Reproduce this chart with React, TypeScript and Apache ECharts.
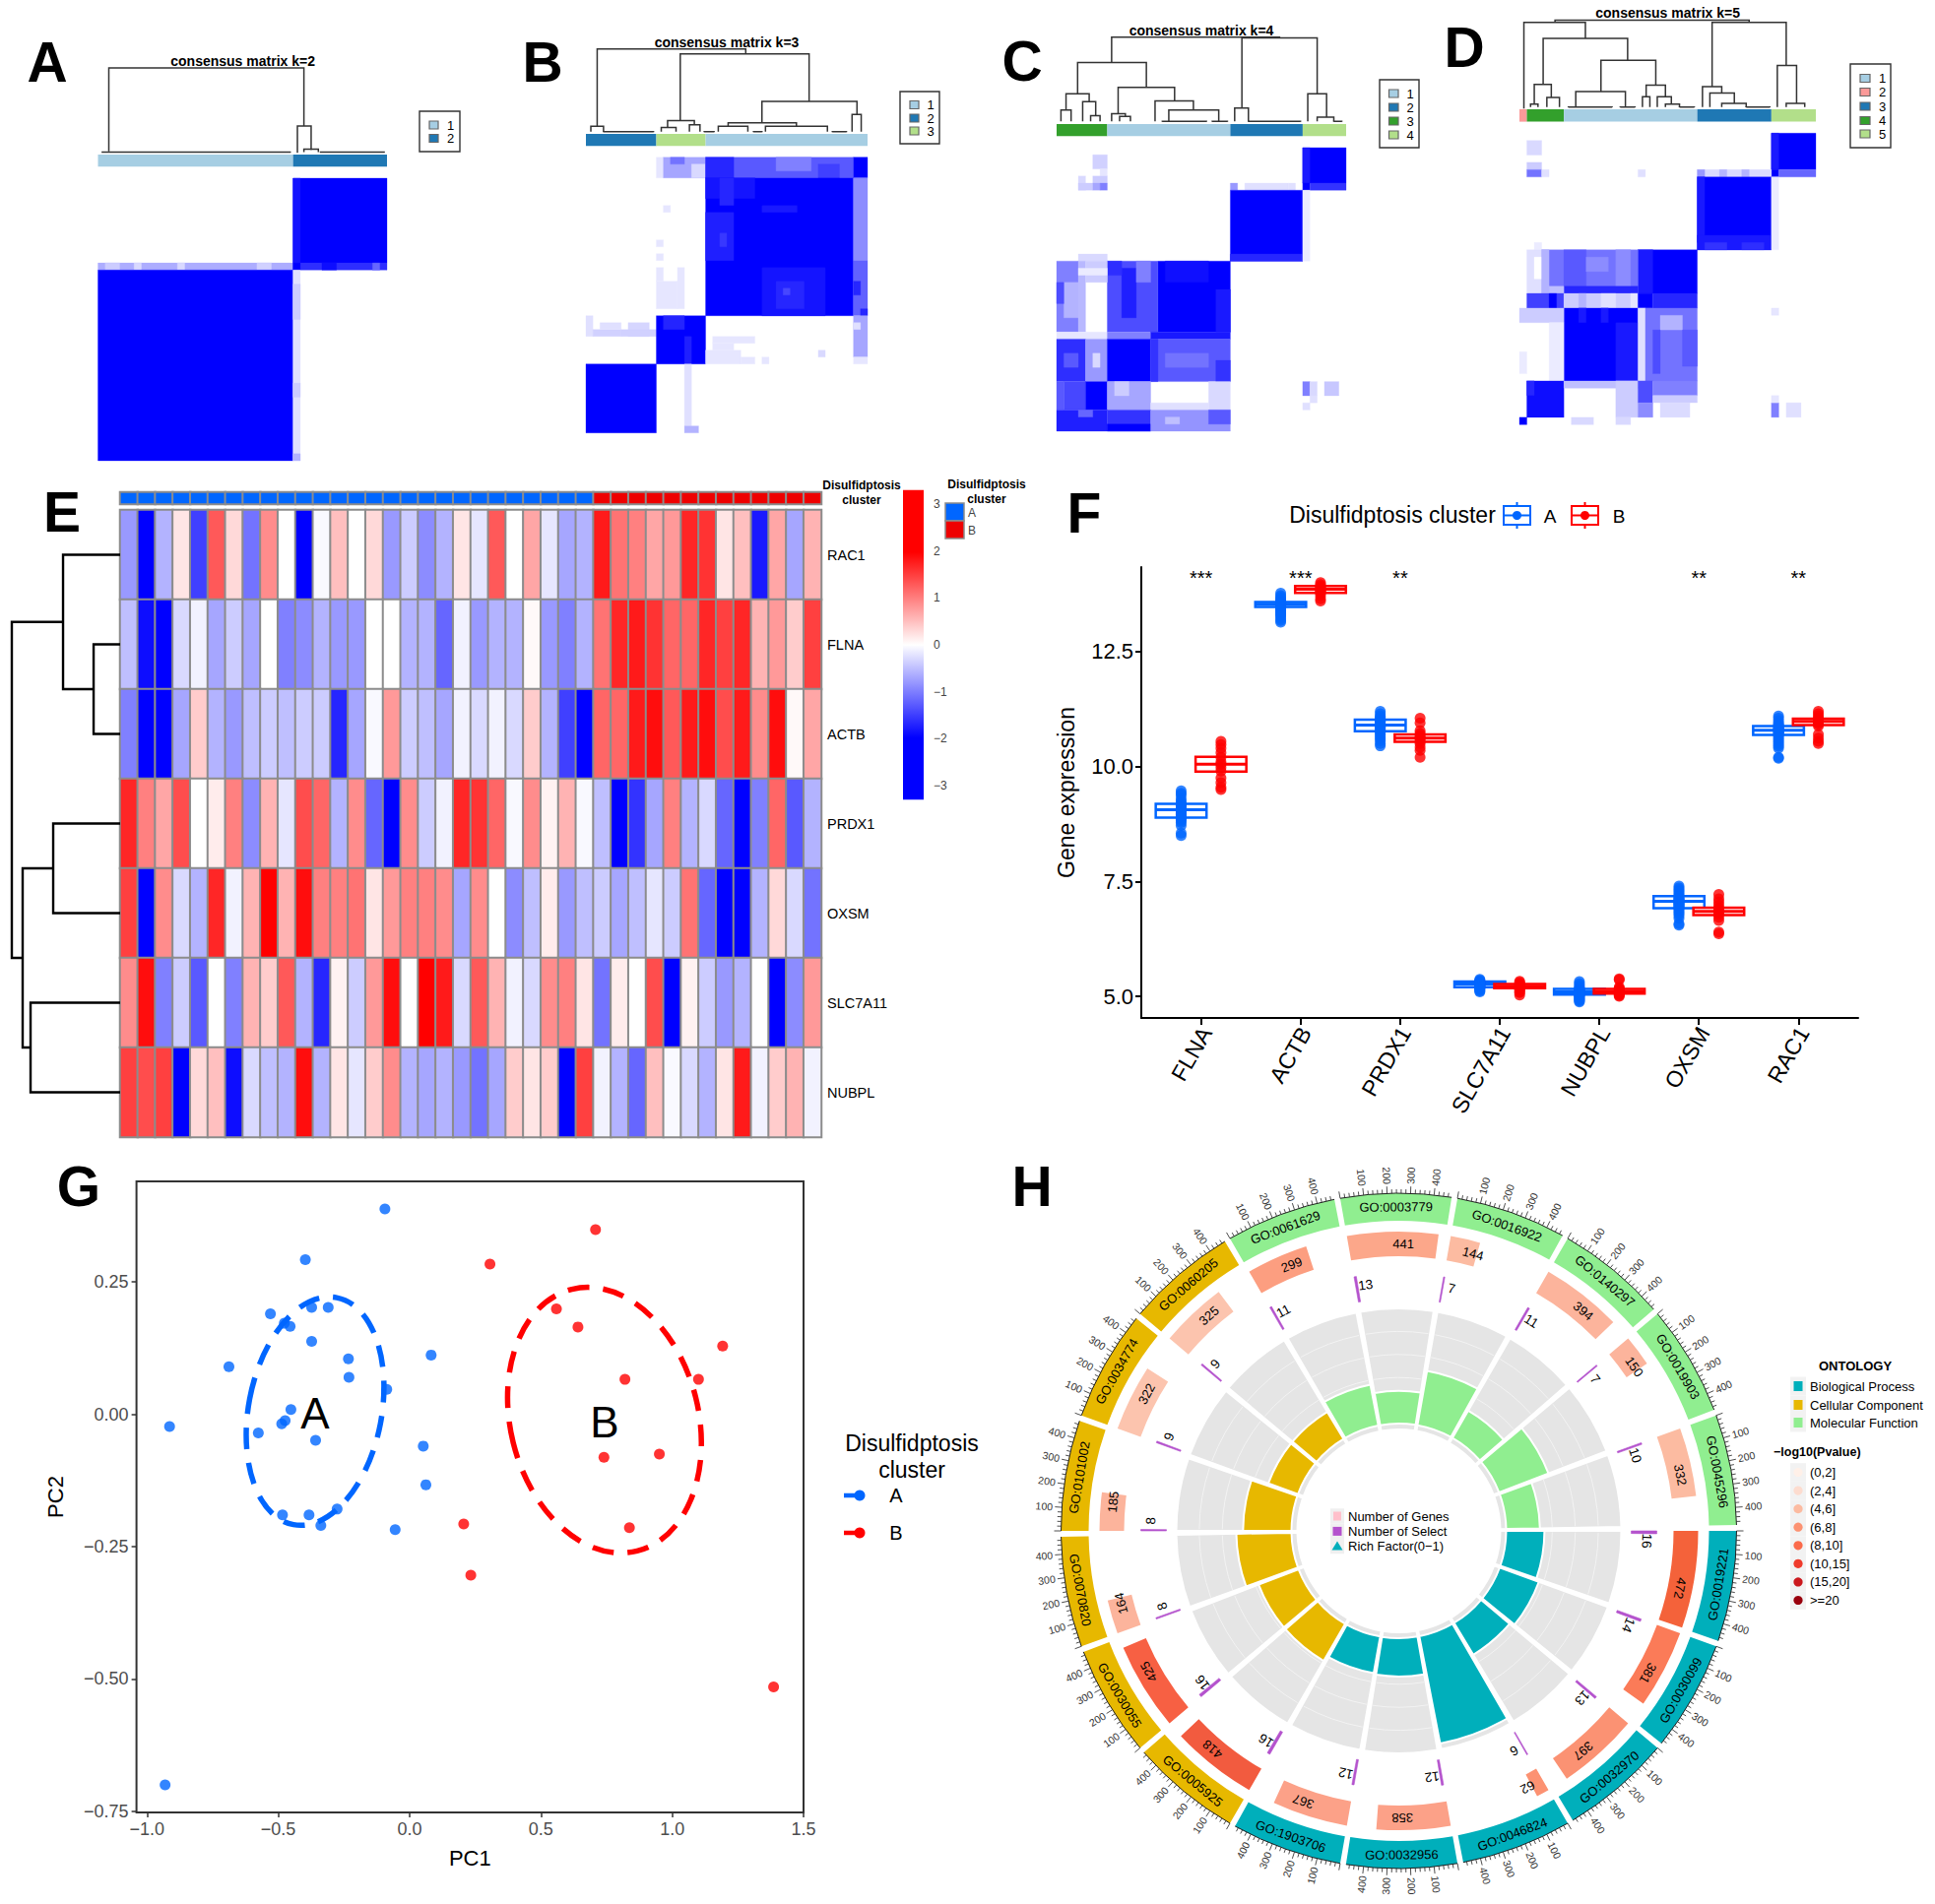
import React, { useEffect, useRef } from "react";
import * as echarts from "echarts";

const FONT = "Liberation Sans";
const BLUE = "#0066FF";
const RED = "#FF0000";
const C_LIGHT = "#A6CEE3";
const C_DARK = "#1F78B4";
const C_GREEN = "#33A02C";
const C_LIME = "#B2DF8A";
const C_SALMON = "#FB9A99";

// ---------- consensus matrices: [colFrom, colTo, rowFrom, rowTo, consensus]
const matrixA = [
  [27, 40, 0, 12, 1], [27, 28, 0, 12, 0.92], [0, 27, 12, 13, 0.32], [1, 3, 12, 13, 0.2], [5, 6, 12, 13, 0.15], [11, 12, 12, 13, 0.15], [22, 24, 12, 13, 0.18],
  [27, 40, 12, 13, 0.82], [27, 28, 12, 13, 1], [31, 33, 12, 13, 0.95], [38, 39, 12, 13, 0.6],
  [0, 27, 13, 40, 1], [27, 28, 13, 40, 0.12], [27, 28, 15, 20, 0.2], [27, 28, 29, 31, 0.2], [27, 28, 39, 40, 0.3],
];
const matrixB = [
  [10, 11, 0, 3, 0.1], [11, 17, 0, 3, 0.35], [12, 14, 0, 1, 0.55], [15, 17, 1, 3, 0.15],
  [17, 38, 0, 3, 0.65], [17, 21, 0, 3, 0.85], [27, 32, 0, 2, 0.5], [33, 36, 1, 3, 0.75], [38, 40, 0, 3, 1],
  [17, 38, 3, 23, 1], [17, 24, 3, 6, 0.92], [19, 21, 3, 7, 0.85], [17, 21, 8, 15, 0.88], [19, 20, 11, 13, 0.78], [25, 30, 7, 8, 0.9], [25, 34, 16, 23, 0.92], [27, 31, 18, 22, 0.85], [28, 29, 19, 20, 0.72],
  [38, 40, 3, 15, 0.45], [38, 40, 15, 23, 0.62], [38, 39, 18, 20, 0.85], [39, 40, 22, 23, 0.85],
  [11, 12, 7, 8, 0.1], [10, 11, 12, 13, 0.1], [10, 11, 14, 15, 0.1], [13, 14, 16, 22, 0.1], [10, 13, 18, 22, 0.1], [10, 11, 16, 18, 0.1],
  [0, 1, 23, 26, 0.12], [1, 5, 25, 26, 0.18], [2, 5, 24, 25, 0.12], [6, 9, 24, 26, 0.16], [5, 10, 25, 26, 0.18],
  [10, 17, 23, 30, 1], [11, 14, 23, 25, 0.86], [14, 15, 26, 30, 0.88],
  [38, 40, 23, 29, 0.35], [38, 39, 24, 25, 0.12], [38, 40, 29, 30, 0.1],
  [18, 24, 26, 27, 0.1], [18, 21, 27, 28, 0.1], [17, 22, 28, 30, 0.1], [22, 24, 29, 30, 0.1], [25, 26, 29, 30, 0.1], [33, 34, 28, 29, 0.15],
  [0, 10, 30, 40, 1], [14, 15, 30, 39, 0.12], [14, 16, 39, 40, 0.3],
];
const matrixC = [
  [34, 40, 0, 5, 1], [34, 35, 0, 5, 0.9], [34, 35, 5, 6, 1], [35, 40, 5, 6, 0.8], [24, 25, 5, 6, 0.4], [26, 32, 5, 6, 0.12], [32, 33, 5, 6, 0.12],
  [5, 7, 1, 3, 0.18], [6, 7, 3, 4, 0.1], [3, 4, 4, 6, 0.15], [5, 7, 4, 5, 0.2], [3, 5, 5, 6, 0.2], [5, 6, 5, 6, 0.35], [6, 7, 5, 6, 0.5],
  [24, 34, 6, 16, 1], [24, 34, 15, 16, 0.85], [34, 35, 6, 16, 0.08], [3, 7, 15, 16, 0.15],
  [14, 24, 16, 26, 1], [15, 21, 16, 19, 0.94], [22, 24, 20, 26, 0.9], [7, 14, 16, 26, 0.7], [9, 11, 17, 24, 0.88], [11, 13, 16, 19, 0.5], [7, 9, 16, 18, 0.82],
  [0, 3, 16, 26, 0.5], [1, 3, 19, 24, 0.3], [0, 1, 19, 22, 0.7], [3, 4, 16, 26, 0.28], [4, 7, 16, 19, 0.2], [3, 7, 17, 18, 0.08],
  [0, 7, 26, 27, 0.1], [7, 13, 26, 27, 0.5], [13, 24, 26, 27, 0.9],
  [0, 4, 27, 33, 0.82], [1, 3, 29, 31, 0.65], [4, 7, 27, 33, 0.4], [5, 6, 29, 31, 0.15], [7, 13, 27, 33, 1], [13, 24, 27, 33, 0.65], [15, 21, 29, 31, 0.55], [13, 14, 27, 33, 0.8], [22, 24, 30, 33, 0.8],
  [0, 1, 33, 37, 0.65], [1, 4, 33, 37, 0.72], [4, 7, 33, 37, 1], [7, 13, 33, 37, 0.35], [8, 10, 33, 35, 0.2], [21, 24, 33, 37, 0.15],
  [13, 21, 36, 37, 0.12], [34, 35, 33, 35, 0.5], [35, 36, 33, 35, 0.15], [37, 39, 33, 35, 0.22], [34, 35, 36, 37, 0.12], [35, 36, 35, 36, 0.12],
  [0, 7, 37, 40, 0.88], [3, 5, 37, 38, 0.6], [7, 13, 37, 40, 0.8], [7, 13, 39, 40, 1], [13, 24, 37, 40, 0.42], [15, 17, 38, 39, 0.25], [21, 24, 37, 39, 0.65],
];
const matrixD = [
  [34, 40, 0, 5, 1], [34, 35, 0, 5, 0.9], [1, 3, 1, 3, 0.15], [1, 3, 4, 5, 0.2], [34, 35, 5, 6, 1], [35, 40, 5, 6, 0.6], [24, 34, 5, 6, 0.15], [24, 25, 5, 6, 0.4], [27, 28, 5, 6, 0.3], [30, 31, 5, 6, 0.3],
  [1, 3, 5, 6, 0.55], [3, 4, 5, 6, 0.12], [16, 17, 5, 6, 0.12],
  [24, 34, 6, 16, 1], [24, 25, 6, 15, 0.9], [24, 34, 14, 16, 0.9], [25, 28, 15, 16, 0.8], [30, 33, 15, 16, 0.82], [34, 35, 6, 16, 0.08], [2, 3, 15, 16, 0.08],
  [16, 24, 16, 22, 1], [16, 18, 16, 22, 0.9], [3, 16, 16, 22, 0.55], [6, 9, 16, 22, 0.65], [13, 15, 16, 22, 0.45], [9, 12, 17, 19, 0.45], [1, 3, 16, 22, 0.12], [2, 3, 17, 20, 0], [3, 4, 16, 22, 0.3],
  [6, 16, 21, 22, 0.85], [4, 6, 21, 22, 0.25],
  [1, 6, 22, 24, 0.75], [4, 5, 22, 24, 1], [6, 16, 22, 24, 0.2], [8, 9, 22, 24, 0.3], [11, 13, 22, 24, 0.12], [15, 16, 22, 24, 0.1], [16, 18, 22, 24, 1], [18, 24, 22, 24, 0.85],
  [6, 16, 24, 34, 1], [8, 9, 24, 26, 0.9], [11, 12, 24, 26, 0.9], [13, 16, 26, 34, 0.9], [16, 17, 24, 34, 0.12], [17, 24, 24, 34, 0.55], [19, 22, 25, 27, 0.3], [18, 19, 27, 33, 0.7], [22, 24, 27, 32, 0.65],
  [0, 6, 24, 26, 0.2], [4, 6, 26, 34, 0.08], [0, 1, 30, 33, 0.08], [34, 35, 24, 25, 0.1],
  [1, 6, 34, 39, 0.95], [1, 2, 34, 36, 0.85], [6, 16, 34, 35, 0.25], [13, 16, 34, 39, 0.2], [16, 18, 34, 37, 0.7], [16, 18, 37, 39, 0.45], [18, 24, 34, 36, 0.5], [18, 24, 36, 37, 0.2], [19, 23, 37, 39, 0.14],
  [34, 35, 37, 39, 0.5], [36, 38, 37, 39, 0.12], [34, 35, 36, 37, 0.1],
  [0, 1, 39, 40, 1], [7, 10, 39, 40, 0.15], [13, 15, 39, 40, 0.15],
];

// ---------- dendrogram brackets: [left, right, top, leftLegEnd, rightLegEnd]
const dendroA = [
  [1.5, 28.5, -15.6, -3.8, -7.4], [27.6, 29.5, -7.4, -3.6, -4], [28.5, 30.5, -4.1, -3.7, -3.7], [0.6, 26.6, -3.7, -3.6, -3.6], [30.8, 39.6, -3.7, -3.6, -3.6],
];
const dendroB = [
  [1.6, 22.7, -15.7, -4.5, -15], [13.4, 31.7, -15, -5.3, -8.1], [25, 38.5, -8.1, -5, -6.2], [37.8, 39.1, -6.2, -3.7, -3.7], [20.2, 29.9, -5, -4.5, -4.5],
  [18.8, 23, -4.5, -3.7, -3.7], [25.5, 34.3, -4.5, -3.7, -3.7], [11.6, 15.4, -5.3, -4.3, -4.7], [10.7, 12.8, -4.3, -3.7, -3.7], [14.7, 16.2, -4.7, -3.7, -3.7],
  [0.7, 2.5, -4.5, -3.7, -3.7], [2.5, 9.6, -3.7, -3.65, -3.65], [16.8, 18.2, -3.7, -3.65, -3.65], [23.8, 25, -3.7, -3.65, -3.65], [35, 37, -3.7, -3.65, -3.65],
];
const dendroC = [
  [7.6, 30.8, -15.6, -12, -15.5], [25.6, 36, -15.5, -5.6, -7.6], [2.9, 12.4, -12, -7.6, -8.5], [1.3, 4.5, -7.6, -5.3, -6.5], [0.6, 2, -5.3, -3.7, -3.7], [3.6, 5.4, -6.5, -3.7, -4.5],
  [4.7, 6, -4.5, -3.7, -3.7], [8.5, 16.3, -8.5, -4.8, -6.6], [7.6, 9.5, -4.8, -3.7, -4.4], [8.7, 10.2, -4.4, -3.7, -3.7], [13.6, 18.9, -6.6, -3.7, -5.3], [15.5, 22.4, -5.3, -3.7, -3.7],
  [14.6, 20.7, -3.7, -3.65, -3.65], [21.5, 23.6, -3.7, -3.65, -3.65], [24.6, 26.5, -5.6, -3.7, -3.7], [26.5, 33.7, -3.7, -3.65, -3.65], [34.7, 37.3, -7.6, -3.7, -4.3], [36, 38.3, -4.3, -3.7, -3.7], [38.3, 39.4, -3.7, -3.65, -3.65],
];
const dendroD = [
  [4.8, 31, -15.5, -15.2, -15.2], [0.6, 8.9, -15.2, -3.4, -13], [3.2, 14.6, -13, -6.7, -10], [11, 18.4, -10, -5.7, -6.6], [7.6, 14.3, -5.7, -3.6, -3.6], [17.1, 19.7, -6.6, -5, -5], [16.6, 17.6, -5, -3.6, -3.6],
  [18.6, 20.5, -5, -3.6, -4], [19.7, 21.6, -4, -3.6, -3.6], [21.6, 23.6, -3.6, -3.55, -3.55], [26, 36, -15.2, -6.4, -9.3], [24.7, 27.3, -6.4, -3.6, -5.5], [25.7, 29, -5.5, -3.6, -4.1], [27.3, 30.6, -4.1, -3.6, -3.6], [30.6, 33.8, -3.6, -3.55, -3.55],
  [34.8, 37.4, -9.3, -3.6, -4.1], [36, 38.5, -4.1, -3.6, -3.6], [2, 4.3, -6.7, -4, -4.9], [1.5, 2.5, -4, -3.6, -3.6], [3.7, 5.4, -4.9, -3.6, -3.6], [6.6, 12.5, -3.6, -3.55, -3.55], [13.6, 15.6, -3.6, -3.55, -3.55],
];

// ---------- cluster annotation runs: [colFrom, colTo]
const annotA = [[0, 27], [27, 40]];
const annotAColors = [C_LIGHT, C_DARK];
const annotB = [[0, 10], [10, 17], [17, 40]];
const annotBColors = [C_DARK, C_LIME, C_LIGHT];
const annotC = [[0, 7], [7, 24], [24, 34], [34, 40]];
const annotCColors = [C_GREEN, C_LIGHT, C_DARK, C_LIME];
const annotD = [[0, 1], [1, 6], [6, 24], [24, 34], [34, 40]];
const annotDColors = [C_SALMON, C_GREEN, C_LIGHT, C_DARK, C_LIME];

// ---------- panel E
const heatGenes = ["RAC1", "FLNA", "ACTB", "PRDX1", "OXSM", "SLC7A11", "NUBPL"];
const heatRAC1 = [-0.8, -2.2, -0.6, 0.2, -1.5, 1.3, 0.3, -1.1, 0.9, 0, -2.2, -0.05, 0.5, 0, 0.3, -0.8, -0.4, -0.9, -0.6, 0.2, -0.2, 1.3, 0, 0.7, -0.2, -0.7, -0.6, 1.8, 1.1, 1.0, 0.7, 0.8, 1.7, 1.6, 0.2, 0.5, -1.8, 0.7, -0.7, 0.6];
const heatFLNA = [-0.5, -1.9, -2.1, -0.3, -0.1, -0.7, -0.4, -0.7, 0, -1, -0.9, -0.6, -0.8, -0.8, 0, 0, -0.6, -0.6, -1.2, -0.1, -0.8, -0.6, -0.6, 0.05, -0.8, -1, -0.6, 1.1, 1.7, 1.8, 1.6, 1.2, 1.2, 1.7, 1.5, 1.7, 0.6, 0.8, 0.4, 1.5];
const heatACTB = [-1, -2.2, -2.1, -0.7, 0.4, -0.6, -0.8, -0.5, -0.4, -0.5, -0.4, -0.4, -1.7, -0.7, -0.05, 0.8, -0.4, -0.5, -0.7, -0.1, -0.3, -0.1, -0.3, 0.4, -0.6, -1.5, -2, 1.2, 1.2, 1.8, 1.9, 1.3, 1.8, 1.9, 1.4, 1.8, 0.9, 1.9, 0.05, 0.7];
const heatPRDX1 = [1.7, 1, 0.7, 1.4, 0, 0.15, 1, -0.9, 0.6, -0.2, 1.4, 1.2, -0.6, 0.9, -1.2, -2, 0.9, -0.4, -0.1, 1.7, 1.6, 1.2, -0.05, 0.9, 0.1, 0.6, -0.05, -0.5, -2.2, -1.6, -0.7, 1.0, -0.6, -0.3, -1.2, -2, -1, 1.2, -1.3, -0.6];
const heatOXSM = [1.5, -2.2, 0.9, -0.3, -0.6, 1.7, -0.1, 0.6, 2, 0.6, 1.9, 1.0, 1.0, 1.1, 0.2, 0.8, 1.0, 1.0, 0.9, -0.7, 0.9, 0, -0.9, -0.5, 0.15, -0.8, -0.5, -0.4, -0.7, -0.5, -0.2, -0.4, 1.1, -1.2, -2.1, -2.2, -0.6, 0.3, -0.3, -1.1];
const heatSLC7A11 = [0.9, 1.9, -1.0, -0.4, -1.3, 0, -1, 0.6, 0.4, 1.3, -0.6, -1.7, 0.1, -0.4, 0.8, 1.9, 0, 2, 1.8, -0.3, 1.3, 0.6, -0.1, -0.3, 0.9, 1.0, 0.2, -1.1, 0.15, 0, 1.4, -2.2, 0.1, -0.4, -0.8, -0.6, 0, -2.1, -0.9, 0.8];
const heatNUBPL = [1.5, 1.4, 1.5, -2.2, 0.3, 0.5, -1.9, -0.3, -0.5, -0.6, 1.9, -0.6, 0.2, -0.2, 0.4, 0.9, -0.6, -0.7, -0.6, -0.8, -1.1, -0.7, 0.4, 0.2, 0.4, -2.2, 1.5, -0.1, -0.6, -1.2, 0.5, -0.05, -0.3, -0.6, 0.2, 1.8, -0.1, 0.4, 0.6, -0.1];
const heatRows = [heatRAC1, heatFLNA, heatACTB, heatPRDX1, heatOXSM, heatSLC7A11, heatNUBPL];
const clusterACount = 27;
// [rowFrom, rowTo, height, fromLegEnd, toLegEnd]
const rowDendro = [
  [1.5, 2.5, 0.245, 0, 0], [0.5, 2, 0.527, 0, 0.245], [3.5, 4.5, 0.618, 0, 0], [5.5, 6.5, 0.827, 0, 0], [4, 6, 0.9, 0.618, 0.827], [1.25, 5, 1, 0.527, 0.9],
];
const colorbarTicks = [-3, -2, -1, 0, 1, 2, 3];

// ---------- panel F
const boxGenes = ["FLNA", "ACTB", "PRDX1", "SLC7A11", "NUBPL", "OXSM", "RAC1"];
const boxStatsA = [[8.89, 9.06, 9.19], [13.47, 13.53, 13.58], [10.77, 10.9, 11.02], [5.2, 5.27, 5.32], [5.04, 5.1, 5.16], [6.92, 7.07, 7.18], [10.69, 10.79, 10.88]];
const boxStatsB = [[9.89, 10.05, 10.21], [13.78, 13.86, 13.93], [10.54, 10.62, 10.7], [5.18, 5.22, 5.27], [5.06, 5.11, 5.16], [6.77, 6.85, 6.93], [10.9, 10.98, 11.04]];
const pointsFLNA_A = [9.47, 9.42, 9.38, 9.3, 9.25, 9.2, 9.18, 9.15, 9.12, 9.1, 9.08, 9.06, 9.05, 9.03, 9.0, 8.98, 8.96, 8.94, 8.92, 8.9, 8.88, 8.85, 8.82, 8.78, 8.72, 8.55, 8.5];
const pointsFLNA_B = [10.55, 10.48, 10.4, 10.3, 10.2, 10.1, 10.05, 9.98, 9.9, 9.75, 9.65, 9.55, 9.5];
const pointsACTB_A = [13.77, 13.72, 13.68, 13.65, 13.62, 13.6, 13.58, 13.57, 13.55, 13.54, 13.53, 13.52, 13.5, 13.49, 13.48, 13.46, 13.44, 13.42, 13.4, 13.38, 13.35, 13.32, 13.3, 13.27, 13.22, 13.18, 13.14];
const pointsACTB_B = [14.0, 13.96, 13.93, 13.9, 13.88, 13.86, 13.84, 13.82, 13.8, 13.77, 13.72, 13.65, 13.6];
const pointsPRDX1_A = [11.2, 11.15, 11.1, 11.07, 11.04, 11.02, 11, 10.98, 10.96, 10.94, 10.92, 10.91, 10.9, 10.88, 10.86, 10.85, 10.83, 10.8, 10.78, 10.76, 10.72, 10.68, 10.64, 10.6, 10.56, 10.5, 10.45];
const pointsPRDX1_B = [11.05, 10.95, 10.78, 10.72, 10.68, 10.64, 10.62, 10.6, 10.55, 10.5, 10.42, 10.35, 10.2];
const pointsSLC_A = [5.37, 5.35, 5.33, 5.32, 5.31, 5.3, 5.3, 5.29, 5.28, 5.28, 5.27, 5.27, 5.26, 5.26, 5.25, 5.25, 5.24, 5.23, 5.22, 5.21, 5.2, 5.19, 5.17, 5.16, 5.14, 5.12, 5.1];
const pointsSLC_B = [5.33, 5.3, 5.27, 5.25, 5.23, 5.22, 5.2, 5.18, 5.16, 5.14, 5.1, 5.08, 5.03];
const pointsNUBPL_A = [5.32, 5.28, 5.24, 5.2, 5.18, 5.16, 5.14, 5.13, 5.12, 5.11, 5.1, 5.1, 5.09, 5.08, 5.07, 5.06, 5.05, 5.04, 5.03, 5.02, 5, 4.98, 4.96, 4.94, 4.92, 4.9, 4.88];
const pointsNUBPL_B = [5.38, 5.36, 5.2, 5.17, 5.15, 5.13, 5.11, 5.1, 5.08, 5.06, 5.04, 5.02, 5.0];
const pointsOXSM_A = [7.4, 7.36, 7.32, 7.28, 7.24, 7.2, 7.17, 7.14, 7.12, 7.1, 7.08, 7.07, 7.05, 7.03, 7.02, 7, 6.98, 6.96, 6.94, 6.92, 6.88, 6.84, 6.8, 6.76, 6.7, 6.58, 6.55];
const pointsOXSM_B = [7.22, 7.12, 7.05, 6.98, 6.92, 6.88, 6.85, 6.82, 6.78, 6.72, 6.65, 6.4, 6.36];
const pointsRAC1_A = [11.1, 11.05, 11, 10.95, 10.92, 10.89, 10.87, 10.85, 10.83, 10.81, 10.8, 10.79, 10.78, 10.76, 10.74, 10.72, 10.7, 10.68, 10.64, 10.6, 10.56, 10.52, 10.48, 10.44, 10.4, 10.2, 10.18];
const pointsRAC1_B = [11.2, 11.15, 11.1, 11.05, 11.02, 10.98, 10.95, 10.92, 10.88, 10.7, 10.62, 10.55, 10.5];
const boxPointsA = [pointsFLNA_A, pointsACTB_A, pointsPRDX1_A, pointsSLC_A, pointsNUBPL_A, pointsOXSM_A, pointsRAC1_A];
const boxPointsB = [pointsFLNA_B, pointsACTB_B, pointsPRDX1_B, pointsSLC_B, pointsNUBPL_B, pointsOXSM_B, pointsRAC1_B];
const sigMarks = ["***", "***", "**", "", "", "**", "**"];
const sigLevel = 14.1;
const boxTicks = [5, 7.5, 10, 12.5];

// ---------- panel G
const pcaA = [
  [-0.094, 0.388], [-0.397, 0.292], [-0.53, 0.19], [-0.373, 0.202], [-0.31, 0.202], [-0.477, 0.172], [-0.455, 0.166], [-0.373, 0.138], [-0.233, 0.105], [-0.231, 0.07],
  [-0.688, 0.09], [-0.087, 0.047], [0.082, 0.112], [-0.452, 0.009], [-0.474, -0.012], [-0.487, -0.018], [-0.576, -0.035], [-0.358, -0.049], [-0.914, -0.023], [0.052, -0.06],
  [0.062, -0.133], [-0.055, -0.218], [-0.484, -0.19], [-0.383, -0.19], [-0.276, -0.179], [-0.338, -0.21], [-0.931, -0.7],
];
const pcaB = [
  [0.708, 0.349], [0.306, 0.284], [0.559, 0.199], [0.641, 0.165], [1.192, 0.129], [0.82, 0.066], [1.1, 0.066], [0.951, -0.075], [0.74, -0.081], [0.837, -0.214], [0.206, -0.207], [0.233, -0.304], [1.386, -0.515],
];
const pcaXTicks = [-1, -0.5, 0, 0.5, 1, 1.5];
const pcaYTicks = [-0.75, -0.5, -0.25, 0, 0.25];
// [centre x, centre y, minor px, major px, tilt deg]
const ellipseA = [-0.36, 0.006, 67.6, 117.4, -10.8];
const ellipseB = [0.742, -0.011, 95.5, 137, 14];

// ---------- panel H (clockwise from 3 o'clock)
const goTerms = ["GO:0019221", "GO:0030099", "GO:0032970", "GO:0046824", "GO:0032956", "GO:1903706", "GO:0005925", "GO:0030055", "GO:0070820", "GO:0101002", "GO:0034774", "GO:0060205", "GO:0061629", "GO:0003779", "GO:0016922", "GO:0140297", "GO:0019903", "GO:0045296"];
const goOntology = [0, 0, 0, 0, 0, 0, 1, 1, 1, 1, 1, 1, 2, 2, 2, 2, 2, 2];
const ontologyNames = ["Biological Process", "Cellular Component", "Molecular Function"];
const ontologyColors = ["#00AFBB", "#E7B800", "#90EE90"];
const goGenes = [472, 381, 397, 62, 358, 367, 418, 425, 164, 185, 322, 325, 299, 441, 144, 394, 150, 332];
const goSelect = [16, 14, 13, 6, 12, 12, 16, 16, 8, 8, 9, 9, 11, 13, 7, 11, 7, 10];
const goRich = [0.034, 0.037, 0.033, 0.097, 0.034, 0.033, 0.038, 0.038, 0.049, 0.043, 0.028, 0.028, 0.037, 0.029, 0.049, 0.028, 0.047, 0.03];
const goGeneColors = ["#F4623A", "#FB7B58", "#FB9273", "#FC9272", "#FCA188", "#FCA188", "#F25B3F", "#F76043", "#FCB49C", "#FCB49C", "#FCC4AE", "#FCC4AE", "#FC9E80", "#FCA78A", "#FCBBA1", "#FCB49C", "#FCB49C", "#FCBBA1"];
const pvalueNames = ["(0,2]", "(2,4]", "(4,6]", "(6,8]", "(8,10]", "(10,15]", "(15,20]", ">=20"];
const pvalueColors = ["#FFF0E8", "#FDDCCF", "#FCBBA1", "#FC9272", "#FB6A4A", "#EF3B2C", "#CB181D", "#99000D"];
const axisLabels = [100, 200, 300, 400];

const blueScale = (v: number) => {
  const c = Math.round(255 * (1 - v));
  return `rgb(${c},${c},255)`;
};
const rad = (d: number) => (d * Math.PI) / 180;
const leaf = { fontFamily: FONT };

const gT = (text: string, x: number, y: number, size: number, o: any = {}) => ({
  type: "text",
  x,
  y,
  rotation: o.rotation || 0,
  silent: true,
  z: 20,
  style: { text, fontSize: size, fontFamily: FONT, fontWeight: o.weight || "normal", fill: o.fill || "#000", align: o.align || "center", verticalAlign: "middle", lineHeight: o.lh },
});
const gR = (x: number, y: number, w: number, h: number, fill: string, stroke?: string, lw = 1) => ({
  type: "rect",
  silent: true,
  z: 15,
  shape: { x, y, width: w, height: h },
  style: { fill, stroke: stroke || null, lineWidth: lw },
});
const gL = (x1: number, y1: number, x2: number, y2: number, stroke: string, lw: number) => ({
  type: "line",
  silent: true,
  z: 15,
  shape: { x1, y1, x2, y2 },
  style: { stroke, lineWidth: lw },
});
const gC = (cx: number, cy: number, r: number, fill: string) => ({
  type: "circle",
  silent: true,
  z: 16,
  shape: { cx, cy, r },
  style: { fill },
});

function buildOption() {
  const grid: any[] = [];
  const xAxis: any[] = [];
  const yAxis: any[] = [];
  const series: any[] = [];
  const graphic: any[] = [];

  const panels = [
    { m: matrixA, d: dendroA, a: annotA, c: annotAColors, x0: 99.5, x1: 393, top: 181, rh: 7.175, bar: [-3.35, -1.63] },
    { m: matrixB, d: dendroB, a: annotB, c: annotBColors, x0: 595, x1: 881, top: 159.7, rh: 7, bar: [-3.38, -1.62] },
    { m: matrixC, d: dendroC, a: annotC, c: annotCColors, x0: 1073, x1: 1367, top: 150, rh: 7.2, bar: [-3.33, -1.62] },
    { m: matrixD, d: dendroD, a: annotD, c: annotDColors, x0: 1543, x1: 1844, top: 135.3, rh: 7.4, bar: [-3.3, -1.58] },
  ];
  panels.forEach((p, i) => {
    grid.push({ left: p.x0, width: p.x1 - p.x0, top: p.top - 16 * p.rh, height: 56 * p.rh });
    xAxis.push({ gridIndex: i, type: "value", min: 0, max: 40, show: false });
    yAxis.push({ gridIndex: i, type: "value", min: -16, max: 40, inverse: true, show: false });
    series.push({
      type: "custom",
      xAxisIndex: i,
      yAxisIndex: i,
      data: p.m,
      clip: false,
      renderItem: (_: any, api: any) => {
        const a = api.coord([api.value(0), api.value(2)]);
        const b = api.coord([api.value(1), api.value(3)]);
        const fill = blueScale(api.value(4));
        return { type: "rect", shape: { x: a[0], y: a[1], width: b[0] - a[0], height: b[1] - a[1] }, style: { fill, stroke: fill, lineWidth: 0.3 } };
      },
    });
    series.push({
      type: "custom",
      xAxisIndex: i,
      yAxisIndex: i,
      data: p.a,
      clip: false,
      renderItem: (params: any, api: any) => {
        const a = api.coord([api.value(0), p.bar[0]]);
        const b = api.coord([api.value(1), p.bar[1]]);
        return { type: "rect", shape: { x: a[0], y: a[1], width: b[0] - a[0], height: b[1] - a[1] }, style: { fill: p.c[params.dataIndex] } };
      },
    });
    series.push({
      type: "custom",
      xAxisIndex: i,
      yAxisIndex: i,
      data: p.d,
      clip: false,
      renderItem: (_: any, api: any) => {
        const l0 = api.coord([api.value(0), api.value(3)]);
        const l1 = api.coord([api.value(0), api.value(2)]);
        const r1 = api.coord([api.value(1), api.value(2)]);
        const r0 = api.coord([api.value(1), api.value(4)]);
        return { type: "polyline", shape: { points: [l0, l1, r1, r0] }, style: { fill: "none", stroke: "#333", lineWidth: 1.5 } };
      },
    });
  });

  // ----- E heat
  const idxHeat = grid.length;
  grid.push({ left: 122, top: 518, width: 712, height: 637 });
  const samples = heatRAC1.map((_, i) => String(i + 1));
  xAxis.push({ gridIndex: idxHeat, type: "category", data: samples, show: false });
  yAxis.push({
    gridIndex: idxHeat,
    type: "category",
    data: heatGenes,
    inverse: true,
    position: "right",
    axisLine: { show: false },
    axisTick: { show: false },
    axisLabel: { fontSize: 14.5, color: "#000", margin: 6, fontFamily: FONT },
    splitLine: { show: false },
  });
  const heatSeriesIndex = series.length;
  series.push({
    type: "heatmap",
    xAxisIndex: idxHeat,
    yAxisIndex: idxHeat,
    data: heatRows.flatMap((row, r) => row.map((v, c) => [c, r, v])),
    itemStyle: { borderColor: "#8c8c8c", borderWidth: 2 },
    emphasis: { disabled: true },
  });

  // ----- E annotation
  const idxAnn = grid.length;
  grid.push({ left: 122, top: 500, width: 712, height: 12 });
  xAxis.push({ gridIndex: idxAnn, type: "category", data: samples, show: false });
  yAxis.push({ gridIndex: idxAnn, type: "category", data: ["cluster"], show: false });
  const annSeriesIndex = series.length;
  series.push({
    type: "heatmap",
    xAxisIndex: idxAnn,
    yAxisIndex: idxAnn,
    data: samples.map((_, c) => [c, 0, c < clusterACount ? 0 : 1]),
    itemStyle: { borderColor: "#8c8c8c", borderWidth: 2 },
    emphasis: { disabled: true },
  });

  // ----- E dendrogram
  const idxDen = grid.length;
  grid.push({ left: 1, top: 518, width: 121, height: 637 });
  xAxis.push({ gridIndex: idxDen, type: "value", min: 0, max: 1.1, inverse: true, show: false });
  yAxis.push({ gridIndex: idxDen, type: "value", min: 0, max: 7, inverse: true, show: false });
  series.push({
    type: "custom",
    xAxisIndex: idxDen,
    yAxisIndex: idxDen,
    data: rowDendro,
    clip: false,
    renderItem: (_: any, api: any) => {
      const a = api.coord([api.value(3), api.value(0)]);
      const b = api.coord([api.value(2), api.value(0)]);
      const c = api.coord([api.value(2), api.value(1)]);
      const d = api.coord([api.value(4), api.value(1)]);
      return { type: "polyline", shape: { points: [a, b, c, d] }, style: { fill: "none", stroke: "#000", lineWidth: 2.4 } };
    },
  });

  // ----- E colourbar
  const idxBar = grid.length;
  grid.push({ left: 917, top: 512, width: 21, height: 286 });
  xAxis.push({ gridIndex: idxBar, type: "value", min: 0, max: 1, show: false });
  yAxis.push({
    gridIndex: idxBar,
    type: "value",
    min: -3,
    max: 3,
    interval: 1,
    position: "right",
    axisLine: { show: false },
    axisTick: { show: false },
    splitLine: { show: false },
    axisLabel: { fontSize: 12, color: "#444", margin: 10, fontFamily: FONT, customValues: colorbarTicks, formatter: (v: number) => String(v).replace("-", "\u2212") },
  });
  series.push({
    type: "custom",
    xAxisIndex: idxBar,
    yAxisIndex: idxBar,
    data: [[0, 1, -3.3, 3.3]],
    clip: false,
    renderItem: (_: any, api: any) => {
      const a = api.coord([api.value(0), api.value(3)]);
      const b = api.coord([api.value(1), api.value(2)]);
      return {
        type: "rect",
        shape: { x: a[0], y: a[1], width: b[0] - a[0], height: b[1] - a[1] },
        style: {
          fill: new echarts.graphic.LinearGradient(0, 0, 0, 1, [
            { offset: 0, color: "#FF0000" },
            { offset: 0.2, color: "#FF0000" },
            { offset: 0.5, color: "#FFFFFF" },
            { offset: 0.8, color: "#0000FF" },
            { offset: 1, color: "#0000FF" },
          ]),
        },
      };
    },
  });

  // ----- F
  const idxBox = grid.length;
  grid.push({ left: 1159, top: 576, width: 728, height: 458 });
  const geneTicks = boxGenes.map((_, i) => i + 1);
  const geneLabelSpots = boxGenes.map((_, i) => i + 1.05);
  xAxis.push({
    gridIndex: idxBox,
    type: "value",
    min: 0.4,
    max: 7.6,
    splitLine: { show: false },
    axisLine: { show: true, onZero: false, lineStyle: { color: "#000", width: 2 } },
    axisTick: { show: true, length: 7, customValues: geneTicks, lineStyle: { color: "#000", width: 2 } },
    axisLabel: { fontSize: 23, color: "#000", rotate: 60, margin: 11, fontFamily: FONT, customValues: geneLabelSpots, formatter: (v: number) => boxGenes[Math.round(v) - 1] },
  });
  yAxis.push({
    gridIndex: idxBox,
    type: "value",
    min: 4.53,
    max: 14.34,
    name: "Gene expression",
    nameLocation: "middle",
    nameGap: 65,
    nameTextStyle: { fontSize: 23, color: "#000", fontFamily: FONT },
    splitLine: { show: false },
    axisLine: { show: true, onZero: false, lineStyle: { color: "#000", width: 2 } },
    axisTick: { show: true, length: 6, customValues: boxTicks, lineStyle: { color: "#000", width: 2 } },
    axisLabel: { fontSize: 22, color: "#000", margin: 8, fontFamily: FONT, customValues: boxTicks, formatter: (v: number) => v.toFixed(1) },
  });
  const boxSeries = (stats: number[][], color: string, dodge: number) => ({
    type: "custom",
    xAxisIndex: idxBox,
    yAxisIndex: idxBox,
    data: stats.map((s, i) => [i + 1 + dodge, s[0], s[1], s[2]]),
    renderItem: (_: any, api: any) => {
      const hw = 0.255;
      const a = api.coord([api.value(0) - hw, api.value(3)]);
      const b = api.coord([api.value(0) + hw, api.value(1)]);
      const m0 = api.coord([api.value(0) - hw, api.value(2)]);
      const m1 = api.coord([api.value(0) + hw, api.value(2)]);
      return {
        type: "group",
        children: [
          { type: "rect", shape: { x: a[0], y: a[1], width: b[0] - a[0], height: b[1] - a[1] }, style: { fill: "#fff", stroke: color, lineWidth: 2.5 } },
          { type: "line", shape: { x1: m0[0], y1: m0[1], x2: m1[0], y2: m1[1] }, style: { stroke: color, lineWidth: 3 } },
        ],
      };
    },
  });
  series.push(boxSeries(boxStatsA, BLUE, -0.2));
  series.push(boxSeries(boxStatsB, RED, 0.2));
  const pointSeries = (pts: number[][], color: string, dodge: number) => ({
    type: "scatter",
    xAxisIndex: idxBox,
    yAxisIndex: idxBox,
    symbolSize: 11,
    itemStyle: { color },
    data: pts.flatMap((list, i) => list.map((v) => [i + 1 + dodge, v])),
    emphasis: { disabled: true },
  });
  series.push(pointSeries(boxPointsA, BLUE, -0.2));
  series.push(pointSeries(boxPointsB, RED, 0.2));
  series.push({
    type: "custom",
    xAxisIndex: idxBox,
    yAxisIndex: idxBox,
    data: sigMarks.map((_, i) => [i + 1, sigLevel]),
    renderItem: (params: any, api: any) => {
      const p = api.coord([api.value(0), api.value(1)]);
      return { type: "text", x: p[0], y: p[1], style: { text: sigMarks[params.dataIndex], fontSize: 20, fontFamily: FONT, fill: "#000", align: "center", verticalAlign: "middle" } };
    },
  });

  // ----- G
  const idxPca = grid.length;
  grid.push({ left: 138.6, top: 1200, width: 677.4, height: 641, show: true, borderColor: "#333", borderWidth: 2, backgroundColor: "transparent" });
  xAxis.push({
    gridIndex: idxPca,
    type: "value",
    min: -1.04,
    max: 1.5,
    name: "PC1",
    nameLocation: "middle",
    nameGap: 35,
    nameTextStyle: { fontSize: 22, color: "#000", fontFamily: FONT },
    splitLine: { show: false },
    axisLine: { show: false, onZero: false },
    axisTick: { show: true, length: 5, customValues: pcaXTicks, lineStyle: { color: "#333", width: 1.5 } },
    axisLabel: { fontSize: 18, color: "#4d4d4d", margin: 8, fontFamily: FONT, hideOverlap: false, customValues: pcaXTicks, formatter: (v: number) => v.toFixed(1).replace("-", "\u2212") },
  });
  yAxis.push({
    gridIndex: idxPca,
    type: "value",
    min: -0.752,
    max: 0.44,
    name: "PC2",
    nameLocation: "middle",
    nameGap: 71,
    nameTextStyle: { fontSize: 22, color: "#000", fontFamily: FONT },
    splitLine: { show: false },
    axisLine: { show: false, onZero: false },
    axisTick: { show: true, length: 5, customValues: pcaYTicks, lineStyle: { color: "#333", width: 1.5 } },
    axisLabel: { fontSize: 18, color: "#4d4d4d", margin: 8, fontFamily: FONT, customValues: pcaYTicks, formatter: (v: number) => v.toFixed(2).replace("-", "\u2212") },
  });
  const ellipseSeries = (e: number[], color: string, name: string) => ({
    type: "custom",
    xAxisIndex: idxPca,
    yAxisIndex: idxPca,
    data: [[e[0], e[1]]],
    renderItem: (_: any, api: any) => {
      const p = api.coord([api.value(0), api.value(1)]);
      return {
        type: "group",
        children: [
          { type: "ellipse", x: p[0], y: p[1], rotation: rad(e[4]), shape: { cx: 0, cy: 0, rx: e[2], ry: e[3] }, style: { fill: "none", stroke: color, lineWidth: 5.5, lineDash: [22, 14] } },
          { type: "text", x: p[0], y: p[1] + 2, style: { text: name, fontSize: 44, fontFamily: FONT, fill: "#000", align: "center", verticalAlign: "middle" } },
        ],
      };
    },
  });
  series.push(ellipseSeries(ellipseA, BLUE, "A"));
  series.push(ellipseSeries(ellipseB, RED, "B"));
  series.push({ type: "scatter", xAxisIndex: idxPca, yAxisIndex: idxPca, symbolSize: 11, itemStyle: { color: BLUE }, data: pcaA, emphasis: { disabled: true } });
  series.push({ type: "scatter", xAxisIndex: idxPca, yAxisIndex: idxPca, symbolSize: 11, itemStyle: { color: RED }, data: pcaB, emphasis: { disabled: true } });

  // ----- H
  const SPAN = 19;
  const perUnit = 0.04;
  const R = { hole: 103, wedge0: 109, wedge1: 226, sel0: 236, sel1: 262, gene0: 279, gene1: 304, ring0: 315, ring1: 343 };
  series.push({
    type: "custom",
    coordinateSystem: "polar",
    polarIndex: 0,
    data: goTerms.map((_, i) => [goGenes[i] / 10, i * 20]),
    renderItem: (params: any, api: any) => {
      const i = params.dataIndex;
      const { cx, cy } = params.coordSys;
      const start = api.value(1);
      const onto = ontologyColors[goOntology[i]];
      const sector = (r0: number, r: number, a0: number, a1: number, style: any) => ({
        type: "sector",
        shape: { cx, cy, r0, r, startAngle: rad(a0), endAngle: rad(a1), clockwise: true },
        style,
      });
      const radialPoint = (r: number, a: number) => [cx + r * Math.cos(rad(a)), cy + r * Math.sin(rad(a))];
      const children: any[] = [];
      children.push(sector(R.hole, R.wedge1, start, start + SPAN, { fill: "#E5E5E5", stroke: "#fff", lineWidth: 2 }));
      [1, 2, 3, 4].forEach((k) => {
        children.push({ type: "arc", shape: { cx, cy, r: R.wedge0 + (k * (R.wedge1 - R.wedge0)) / 5, startAngle: rad(start + 0.5), endAngle: rad(start + SPAN - 0.5), clockwise: true }, style: { fill: "none", stroke: "#F3F3F3", lineWidth: 1 } });
      });
      const richEnd = R.wedge0 + goRich[i] * 1144;
      children.push(sector(R.wedge0, richEnd, start, start + SPAN, { fill: onto, stroke: "#fff", lineWidth: 2 }));
      // select
      const selArc = goSelect[i] * perUnit;
      children.push(sector(R.sel0, R.sel1, start, start + selArc, { fill: "#B452CD", stroke: "#B452CD", lineWidth: 0.6 }));
      const sp = radialPoint(252, start + 2.3);
      children.push({ type: "text", x: sp[0], y: sp[1], rotation: rad(270 - (start + 2.3)), style: { text: String(goSelect[i]), fontSize: 13.5, fontFamily: FONT, fill: "#000", align: "center", verticalAlign: "middle" } });
      // genes
      const geneArc = goGenes[i] * perUnit;
      children.push(sector(R.gene0, R.gene1, start, start + geneArc, { fill: goGeneColors[i] }));
      const labelAngle = start + geneArc / 2 + 2.1;
      const gp = radialPoint((R.gene0 + R.gene1) / 2, labelAngle);
      children.push({ type: "text", x: gp[0], y: gp[1], rotation: rad(270 - labelAngle), style: { text: String(goGenes[i]), fontSize: 13, fontFamily: FONT, fill: "#000", align: "center", verticalAlign: "middle" } });
      // outer ring
      children.push(sector(R.ring0, R.ring1, start, start + SPAN, { fill: onto }));
      const mid = start + SPAN / 2;
      const tp = radialPoint((R.ring0 + R.ring1) / 2, mid);
      const rot = mid < 180 ? 90 - mid : 270 - mid;
      children.push({ type: "text", x: tp[0], y: tp[1], rotation: rad(rot), style: { text: goTerms[i], fontSize: 13, fontFamily: FONT, fill: "#000", align: "center", verticalAlign: "middle" } });
      // axis
      children.push({ type: "arc", shape: { cx, cy, r: R.ring1, startAngle: rad(start), endAngle: rad(start + SPAN), clockwise: true }, style: { fill: "none", stroke: "#222", lineWidth: 1 } });
      for (let v = 0; v <= 460; v += 20) {
        const a = start + v * perUnit;
        const major = v % 100 === 0;
        const p0 = radialPoint(R.ring1, a);
        const p1 = radialPoint(R.ring1 + (major ? 7 : 4), a);
        children.push({ type: "line", shape: { x1: p0[0], y1: p0[1], x2: p1[0], y2: p1[1] }, style: { stroke: "#222", lineWidth: 0.8 } });
      }
      axisLabels.forEach((v) => {
        const a = start + v * perUnit;
        const lp = radialPoint(R.ring1 + 18, a);
        const norm = a % 360;
        const r2 = norm > 90 && norm < 270 ? 180 - norm : -norm;
        children.push({ type: "text", x: lp[0], y: lp[1], rotation: rad(r2), style: { text: String(v), fontSize: 10.5, fontFamily: FONT, fill: "#333", align: "center", verticalAlign: "middle" } });
      });
      return { type: "group", children };
    },
  });

  // ----- legends and captions as graphic elements
  const letter = (t: string, x: number, y: number) => graphic.push(gT(t, x, y, 57, { weight: "bold" }));
  letter("A", 48, 62.5);
  letter("B", 551, 62.5);
  letter("C", 1038, 62);
  letter("D", 1487, 47.5);
  letter("E", 63, 519.5);
  letter("F", 1101, 520.5);
  letter("G", 80, 1205);
  letter("H", 1048, 1205);

  [[246.6, 62, 2], [738, 43, 3], [1220, 31, 4], [1693.6, 13, 5]].forEach(([x, y, k]) => graphic.push(gT(`consensus matrix k=${k}`, x, y, 14, { weight: "bold" })));

  const clusterLegend = (bx0: number, bx1: number, by0: number, by1: number, kx0: number, kw: number, tx: number, kh: number, ys: number[], colors: string[]) => {
    graphic.push(gR(bx0, by0, bx1 - bx0, by1 - by0, "#fff", "#333", 1.4));
    ys.forEach((y, i) => {
      graphic.push(gR(kx0, y - kh / 2, kw, kh, colors[i], "#666", 1.2));
      graphic.push(gT(String(i + 1), tx, y, 13));
    });
  };
  clusterLegend(426, 467, 113, 154, 436, 9, 457.5, 8, [127, 140.5], [C_LIGHT, C_DARK]);
  clusterLegend(914, 954, 93, 146, 924, 9, 945, 8, [106.5, 120, 133], [C_LIGHT, C_DARK, C_LIME]);
  clusterLegend(1401, 1441, 81, 150, 1410.5, 9.5, 1432, 8, [95, 109, 123, 137], [C_LIGHT, C_DARK, C_GREEN, C_LIME]);
  clusterLegend(1879, 1920, 65, 150, 1889, 10, 1911.5, 8, [79.5, 93.5, 108, 122.5, 136], [C_LIGHT, C_SALMON, C_DARK, C_GREEN, C_LIME]);

  graphic.push(gT("Disulfidptosis", 875, 493, 12, { weight: "bold" }));
  graphic.push(gT("cluster", 875, 508, 12, { weight: "bold" }));
  graphic.push(gT("Disulfidptosis", 1002, 492, 12, { weight: "bold" }));
  graphic.push(gT("cluster", 1002, 507, 12, { weight: "bold" }));
  graphic.push(gR(960, 511, 19, 18, BLUE, "#8c8c8c", 1.5));
  graphic.push(gR(960, 529, 19, 18, "#EE0000", "#8c8c8c", 1.5));
  graphic.push(gT("A", 987, 521, 12, { fill: "#444" }));
  graphic.push(gT("B", 987, 539, 12, { fill: "#444" }));

  graphic.push(gT("Disulfidptosis cluster", 1414, 523, 23));
  const boxKey = (x: number, color: string) => {
    graphic.push(gL(x + 13.5, 510, x + 13.5, 537, color, 2));
    graphic.push(gR(x, 514, 27, 19, "#fff", color, 2));
    graphic.push(gL(x, 523.5, x + 27, 523.5, color, 2));
    graphic.push(gC(x + 13.5, 523.5, 4.5, color));
  };
  boxKey(1527, BLUE);
  boxKey(1596, RED);
  graphic.push(gT("A", 1574, 524, 19));
  graphic.push(gT("B", 1644, 524, 19));

  graphic.push(gT("Disulfidptosis", 926, 1466, 23));
  graphic.push(gT("cluster", 926, 1493, 23));
  [[1519, BLUE, "A"], [1557, RED, "B"]].forEach(([y, c, name]: any) => {
    graphic.push(gL(857, y, 877, y, c, 4.5));
    graphic.push(gC(873, y, 5.5, c));
    graphic.push(gT(name, 910, y, 20));
  });

  graphic.push(gT("ONTOLOGY", 1884, 1387, 13, { weight: "bold" }));
  ontologyNames.forEach((n, i) => {
    const y = [1408, 1427, 1445][i];
    graphic.push(gR(1818, y - 9.5, 16, 19, "#F2F2F2"));
    graphic.push(gR(1821.5, y - 5, 9, 10, ontologyColors[i]));
    graphic.push(gT(n, 1838, y, 13, { align: "left" }));
  });
  graphic.push(gT("\u2212log10(Pvalue)", 1801, 1474.5, 12.5, { align: "left", weight: "bold" }));
  pvalueNames.forEach((n, i) => {
    const y = 1495.5 + i * 18.57;
    graphic.push(gR(1818, y - 9.3, 16, 18.6, "#F2F2F2"));
    graphic.push(gC(1826, y, 4.6, pvalueColors[i]));
    graphic.push(gT(n, 1838, y, 13, { align: "left" }));
  });
  ["Number of Genes", "Number of Select", "Rich Factor(0\u22121)"].forEach((n, i) => {
    const y = [1540, 1555.4, 1570.5][i];
    graphic.push(gR(1351, y - 7.7, 14, 15.4, "#F0F0F0"));
    if (i === 0) graphic.push(gR(1354, y - 4.5, 8, 9, "#FFC0CB"));
    if (i === 1) graphic.push(gR(1353.5, y - 4.5, 9, 9, "#B452CD"));
    if (i === 2) graphic.push({ type: "polygon", silent: true, z: 16, shape: { points: [[1358, y - 5], [1352.5, y + 4], [1363.5, y + 4]] }, style: { fill: "#00AFBB" } });
    graphic.push(gT(n, 1369, y, 13, { align: "left" }));
  });

  return {
    animation: false,
    backgroundColor: "#fff",
    textStyle: leaf,
    grid,
    xAxis,
    yAxis,
    polar: { center: [1420.5, 1555], radius: R.ring1 },
    angleAxis: { type: "value", min: 0, max: 360, startAngle: 0, clockwise: true, show: false },
    radiusAxis: { type: "value", min: 0, max: R.ring1, show: false },
    visualMap: [
      { type: "continuous", show: false, min: -2, max: 2, seriesIndex: heatSeriesIndex, inRange: { color: ["#0000FF", "#FFFFFF", "#FF0000"] } },
      { type: "continuous", show: false, min: 0, max: 1, seriesIndex: annSeriesIndex, inRange: { color: [BLUE, "#EE0000"] } },
    ],
    series,
    graphic: { elements: graphic },
  };
}

export default function App() {
  const ref = useRef<HTMLDivElement>(null);
  useEffect(() => {
    const chart = echarts.init(ref.current as HTMLDivElement, undefined, { renderer: "svg" });
    chart.setOption(buildOption() as any);
    return () => chart.dispose();
  }, []);
  return <div ref={ref} style={{ position: "absolute", left: 0, top: 0, width: 1965, height: 1934 }} />;
}
